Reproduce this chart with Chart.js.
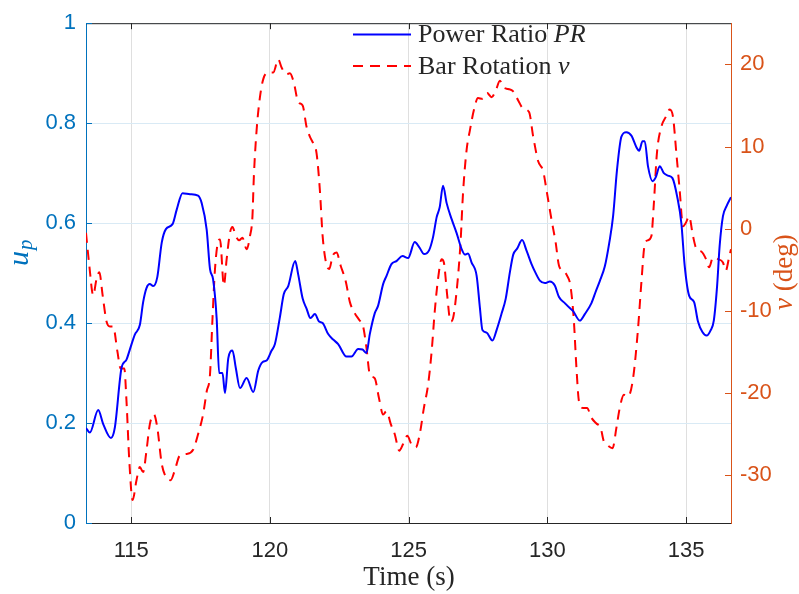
<!DOCTYPE html>
<html><head><meta charset="utf-8">
<script src="https://cdn.jsdelivr.net/npm/chart.js@4/dist/chart.umd.min.js"></script>
<style>html,body{margin:0;padding:0;background:#fff}#wrap{width:799px;height:594px}</style>
</head><body><div id="wrap"><canvas id="c" width="799" height="594"></canvas></div>
<script>
// ---- data ----
const timePR = [113.37,113.51,113.81,113.99,114.27,114.41,114.65,114.83,114.95,115.13,
115.31,115.43,115.55,115.67,115.79,115.94,116.10,116.25,116.49,116.64,
116.85,117.12,117.41,117.54,117.72,117.84,117.95,118.08,118.17,118.29,
118.38,118.50,118.65,118.77,118.92,119.16,119.40,119.58,119.74,119.88,
120.06,120.18,120.36,120.50,120.66,120.91,121.02,121.18,121.32,121.46,
121.62,121.77,121.90,122.10,122.28,122.46,122.76,122.94,123.18,123.34,
123.48,123.60,123.78,123.90,124.08,124.20,124.38,124.56,124.78,124.98,
125.22,125.38,125.56,125.74,125.88,126.01,126.12,126.24,126.37,126.55,
126.73,126.91,127.03,127.14,127.27,127.45,127.57,127.66,127.81,128.02,
128.17,128.35,128.50,128.65,128.77,128.91,129.09,129.25,129.43,129.58,
129.73,129.91,130.09,130.27,130.42,130.63,130.81,130.93,131.17,131.35,
131.59,131.75,131.89,132.07,132.23,132.37,132.51,132.67,132.85,133.03,
133.21,133.31,133.43,133.51,133.63,133.79,133.91,134.05,134.20,134.35,
134.51,134.68,134.83,134.95,135.11,135.29,135.43,135.59,135.74,135.88,
136.00,136.12,136.21,136.33,136.46,136.62];
const powerRatio = [0.190,0.181,0.226,0.198,0.170,0.191,0.310,0.327,0.347,0.377,
0.396,0.442,0.470,0.478,0.474,0.492,0.561,0.588,0.598,0.627,
0.660,0.658,0.655,0.640,0.587,0.508,0.488,0.409,0.300,0.300,
0.260,0.330,0.345,0.310,0.270,0.290,0.262,0.305,0.322,0.325,
0.345,0.358,0.412,0.458,0.474,0.524,0.497,0.449,0.429,0.410,
0.418,0.403,0.400,0.378,0.367,0.358,0.333,0.333,0.348,0.347,
0.340,0.378,0.420,0.435,0.478,0.494,0.518,0.524,0.534,0.530,
0.562,0.552,0.538,0.546,0.572,0.612,0.632,0.675,0.640,0.608,
0.580,0.548,0.537,0.539,0.521,0.495,0.430,0.386,0.381,0.365,
0.386,0.419,0.449,0.502,0.537,0.549,0.566,0.545,0.518,0.500,
0.485,0.480,0.483,0.475,0.452,0.440,0.430,0.424,0.405,0.418,
0.440,0.464,0.484,0.513,0.560,0.614,0.706,0.773,0.782,0.775,
0.752,0.745,0.764,0.764,0.713,0.684,0.692,0.714,0.700,0.695,
0.690,0.653,0.600,0.515,0.455,0.442,0.403,0.382,0.375,0.385,
0.405,0.475,0.554,0.614,0.634,0.652];
const timeNu = [113.37,113.49,113.63,113.75,113.85,113.97,114.11,114.23,114.35,114.50,
114.62,114.75,114.83,114.93,115.05,115.19,115.31,115.43,115.55,115.67,
115.82,115.94,116.10,116.25,116.42,116.57,116.75,117.00,117.23,117.41,
117.59,117.72,117.84,117.93,118.02,118.14,118.20,118.34,118.44,118.56,
118.65,118.77,118.89,119.01,119.16,119.28,119.37,119.42,119.52,119.64,
119.76,119.94,120.12,120.30,120.42,120.60,120.72,120.86,121.02,121.18,
121.32,121.44,121.56,121.68,121.80,121.90,122.02,122.14,122.26,122.40,
122.55,122.74,122.88,123.06,123.22,123.36,123.48,123.60,123.78,123.93,
124.08,124.20,124.36,124.50,124.66,124.80,124.95,125.10,125.26,125.40,
125.55,125.70,125.83,125.94,126.06,126.19,126.27,126.39,126.51,126.60,
126.75,126.87,126.96,127.09,127.21,127.35,127.50,127.66,127.83,127.99,
128.14,128.29,128.41,128.59,128.77,128.95,129.13,129.34,129.49,129.67,
129.85,129.97,130.15,130.30,130.42,130.57,130.71,130.83,130.95,131.05,
131.14,131.29,131.43,131.59,131.77,131.92,132.03,132.19,132.35,132.49,
132.61,132.76,132.91,133.09,133.27,133.39,133.51,133.63,133.75,133.84,
133.95,134.11,134.27,134.41,134.53,134.65,134.77,134.89,134.99,135.11,
135.25,135.38,135.56,135.72,135.83,135.97,136.15,136.33,136.43,136.55,
136.62];
const barRotation = [-0.5,-4.5,-8.1,-6.1,-5.3,-8.1,-11.3,-11.9,-11.9,-14.9,
-17.0,-17.0,-21.0,-28.2,-33.0,-30.6,-29.0,-29.6,-27.0,-23.8,
-22.6,-24.2,-28.6,-30.2,-30.6,-29.4,-27.6,-27.4,-26.9,-25.0,
-22.6,-19.8,-17.7,-10.9,-4.9,-1.5,-1.3,-6.9,-3.7,-0.5,
0.2,-0.9,-1.4,-1.1,-2.5,-0.9,1.5,6.3,12.0,16.0,
18.2,19.0,19.0,20.6,19.6,18.8,18.9,17.8,15.4,15.0,
12.4,11.2,10.4,9.2,4.7,-0.9,-4.1,-4.9,-3.3,-2.9,
-4.5,-6.5,-8.9,-10.3,-11.1,-11.9,-14.5,-17.7,-18.2,-20.6,
-22.6,-22.2,-23.8,-25.0,-27.0,-26.2,-25.2,-26.2,-26.6,-25.0,
-21.8,-19.0,-14.9,-10.1,-6.1,-3.7,-4.1,-8.1,-11.3,-10.9,
-6.9,-1.7,4.3,9.6,12.0,14.4,15.9,15.8,16.5,16.0,
16.8,18.0,17.2,17.0,16.7,15.6,14.6,14.2,11.2,8.2,
7.0,4.7,1.1,-1.7,-4.5,-5.1,-5.7,-6.9,-10.9,-17.0,
-21.0,-21.8,-21.8,-23.0,-23.7,-24.2,-25.8,-26.4,-26.7,-24.2,
-21.8,-20.2,-20.4,-18.2,-12.1,-6.5,-1.9,-1.4,-0.9,3.1,
9.2,12.4,13.6,14.5,13.6,9.2,4.7,0.3,0.7,1.5,
-0.9,-2.5,-2.8,-3.7,-4.7,-3.5,-3.7,-4.1,-5.1,-3.5,
-2.5];
const xTicks = [115,120,125,130,135];
const leftTicks = [0,0.2,0.4,0.6,0.8,1];
const rightTicks = [-30,-20,-10,0,10,20];
const xRange = [113.37,136.62];
const leftRange = [0,1];
const rightRange = [-35.8,25];

const BLUE_AX = '#0072BD', ORANGE_AX = '#D95319', DARK = '#262626';
const serif = '"Liberation Serif", "Times New Roman", serif';
const sans = '"Liberation Sans", Arial, sans-serif';

const prData = timePR.map((t,i)=>({x:t,y:powerRatio[i]}));
const nuData = timeNu.map((t,i)=>({x:t,y:barRotation[i]}));

const decor = {
  id:'decor',
  afterDraw(chart){
    const {ctx, chartArea:a, scales} = chart;
    const sx = scales.x, sl = scales.y, sr = scales.y1;
    ctx.save();
    // top box line
    ctx.strokeStyle = DARK; ctx.lineWidth = 1;
    ctx.beginPath(); ctx.moveTo(a.left, a.top+0.5); ctx.lineTo(a.right, a.top+0.5); ctx.stroke();
    // inside ticks
    const tl = 6;
    ctx.beginPath();
    xTicks.forEach(v=>{const p=Math.round(sx.getPixelForValue(v))+0.5;
      ctx.moveTo(p,a.bottom); ctx.lineTo(p,a.bottom-tl);
      ctx.moveTo(p,a.top); ctx.lineTo(p,a.top+tl);});
    ctx.stroke();
    ctx.strokeStyle = BLUE_AX; ctx.beginPath();
    leftTicks.forEach(v=>{const p=Math.round(sl.getPixelForValue(v))+0.5;
      ctx.moveTo(a.left,p); ctx.lineTo(a.left+tl,p);});
    ctx.stroke();
    ctx.strokeStyle = ORANGE_AX; ctx.beginPath();
    rightTicks.forEach(v=>{const p=Math.round(sr.getPixelForValue(v))+0.5;
      ctx.moveTo(a.right,p); ctx.lineTo(a.right-tl,p);});
    ctx.stroke();

    // x title
    ctx.fillStyle = DARK; ctx.textBaseline='alphabetic'; ctx.textAlign='center';
    ctx.font = '27px '+serif;
    ctx.fillText('Time (s)', 409, 585);

    // left title u_p
    ctx.save();
    ctx.translate(28, 266); ctx.rotate(-Math.PI/2);
    ctx.fillStyle = BLUE_AX; ctx.textAlign='left';
    ctx.font = 'italic 30px '+serif;
    ctx.fillText('u', 0, 0);
    const uw = ctx.measureText('u').width;
    ctx.font = 'italic 21px '+serif;
    ctx.fillText('p', uw+1, 4);
    ctx.restore();

    // right title nu (deg)
    ctx.save();
    ctx.translate(792, 310); ctx.rotate(-Math.PI/2);
    ctx.fillStyle = ORANGE_AX; ctx.textAlign='left';
    ctx.font = 'italic 27px '+serif;
    ctx.fillText('\u03BD', 0, 0);
    const nw = ctx.measureText('\u03BD').width;
    ctx.font = '27px '+serif;
    ctx.fillText(' (deg)', nw, 0);
    ctx.restore();

    // legend
    ctx.lineWidth = 2;
    ctx.strokeStyle = '#0000FF'; ctx.setLineDash([]);
    ctx.beginPath(); ctx.moveTo(353,34.5); ctx.lineTo(411,34.5); ctx.stroke();
    ctx.strokeStyle = '#FF0000'; ctx.setLineDash([10,7]);
    ctx.beginPath(); ctx.moveTo(353,66); ctx.lineTo(411,66); ctx.stroke();
    ctx.setLineDash([]);
    ctx.fillStyle = DARK; ctx.textAlign='left';
    ctx.font = '26px '+serif;
    ctx.fillText('Power Ratio ', 418, 42);
    let w1 = ctx.measureText('Power Ratio ').width;
    ctx.font = 'italic 26px '+serif;
    ctx.fillText('PR', 418+w1, 42);
    ctx.font = '26px '+serif;
    ctx.fillText('Bar Rotation ', 418, 73.5);
    let w2 = ctx.measureText('Bar Rotation ').width;
    ctx.font = 'italic 26px '+serif;
    ctx.fillText('\u03BD', 418+w2, 73.5);
    ctx.restore();
  }
};

new Chart(document.getElementById('c'), {
  type:'line',
  data:{datasets:[
    {label:'Power Ratio PR', data:prData, yAxisID:'y', borderColor:'#0000FF', borderWidth:2,
     pointRadius:0, fill:false, cubicInterpolationMode:'monotone'},
    {label:'Bar Rotation \u03BD', data:nuData, yAxisID:'y1', borderColor:'#FF0000', borderWidth:2,
     borderDash:[10,7], pointRadius:0, fill:false, cubicInterpolationMode:'monotone'}
  ]},
  options:{
    responsive:false, animation:false, devicePixelRatio:1,
    layout:{padding:{top:18,left:0,right:0,bottom:0}},
    plugins:{legend:{display:false}, tooltip:{enabled:false}},
    scales:{
      x:{type:'linear', min:xRange[0], max:xRange[1],
        afterFit(s){s.height=71;},
        afterBuildTicks(s){s.ticks = xTicks.map(v=>({value:v}));},
        ticks:{color:DARK, font:{family:sans,size:22}, padding:15, maxRotation:0, callback:v=>String(v)},
        grid:{color:'#dfdfdf', drawTicks:false},
        border:{color:DARK, width:1}},
      y:{type:'linear', position:'left', min:leftRange[0], max:leftRange[1],
        afterFit(s){s.width=86;},
        afterBuildTicks(s){s.ticks = leftTicks.map(v=>({value:v}));},
        ticks:{color:BLUE_AX, font:{family:sans,size:22}, padding:10, callback:v=>String(v)},
        grid:{color:'#d9eaf5', drawTicks:false},
        border:{color:BLUE_AX, width:1}},
      y1:{type:'linear', position:'right', min:rightRange[0], max:rightRange[1],
        afterFit(s){s.width=68;},
        afterBuildTicks(s){s.ticks = rightTicks.map(v=>({value:v}));},
        ticks:{color:ORANGE_AX, font:{family:sans,size:22}, padding:9, callback:v=>String(v)},
        grid:{drawOnChartArea:false, drawTicks:false},
        border:{color:ORANGE_AX, width:1}}
    }
  },
  plugins:[decor]
});
</script></body></html>
